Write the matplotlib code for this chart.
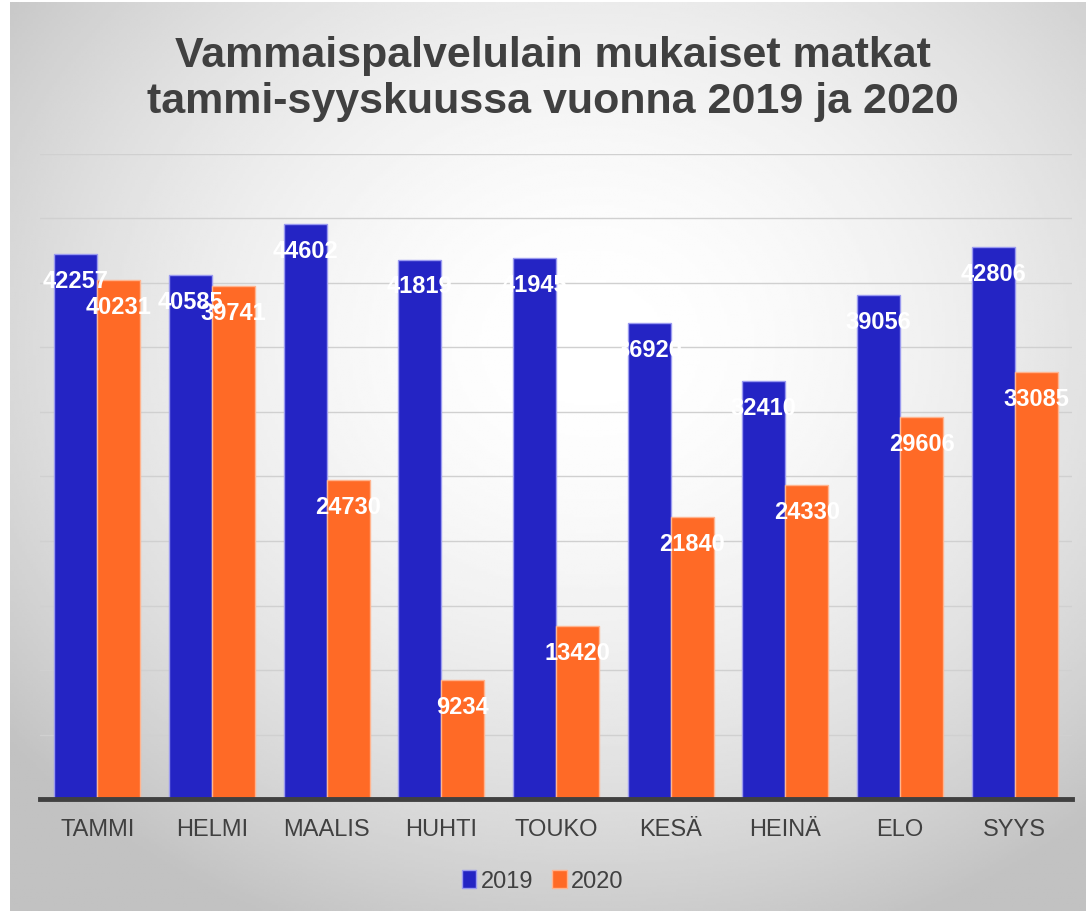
import numpy as np
import matplotlib.pyplot as plt

plt.rcParams['font.family'] = ['Liberation Sans', 'DejaVu Sans']

# ------------------------------------
# -------------------data
# ------------------------------------
months = ['TAMMI', 'HELMI', 'MAALIS', 'HUHTI', 'TOUKO', 'KESÄ', 'HEINÄ', 'ELO', 'SYYS']
trips_2019 = [42257, 40585, 44602, 41819, 41945, 36920, 32410, 39056, 42806]
trips_2020 = [40231, 39741, 24730, 9234, 13420, 21840, 24330, 29606, 33085]
title = 'Vammaispalvelulain mukaiset matkat\ntammi-syyskuussa vuonna 2019 ja 2020'

blue = '#2424c4'
orange = '#ff6a26'
text_gray = '#404040'

fig = plt.figure(figsize=(10.86, 9.12), dpi=100)

# radial gray-to-white background (like the office chart style)
bg = fig.add_axes([10 / 1086, 0, 1 - 10 / 1086, 909 / 912], zorder=-10)
xx, yy = np.meshgrid(np.linspace(-1, 1, 400), np.linspace(-1, 1, 400))
r = np.sqrt((xx - 0.08) ** 2 + (yy + 0.25) ** 2)
shade = 1 - 0.24 * np.clip(r / 1.4, 0, 1) ** 1.8
bg.imshow(shade, cmap='gray', vmin=0, vmax=1, extent=(0, 1, 0, 1), aspect='auto')
bg.axis('off')

ax = fig.add_axes([40 / 1086, 112 / 912, 1032 / 1086, 645 / 912])
ax.set_facecolor('none')

x = np.arange(len(months))
w = 0.375
b1 = ax.bar(x - w / 2, trips_2019, w, color=blue, edgecolor='#9a9af0', linewidth=1, label='2019', zorder=3)
b2 = ax.bar(x + w / 2, trips_2020, w, color=orange, edgecolor='#ffb48f', linewidth=1, label='2020', zorder=3)

# white value labels just inside the bar tops
for bars, vals in ((b1, trips_2019), (b2, trips_2020)):
    for rect, v in zip(bars, vals):
        ax.annotate(str(v), (rect.get_x() + rect.get_width() / 2, v), xytext=(0, -19),
                    textcoords='offset points', ha='center', va='center',
                    color='white', fontsize=17, fontweight='bold', zorder=5)

ax.set_xlim(-0.5, len(months) - 0.5)
ax.set_ylim(0, 50000)
ax.set_yticks(np.arange(5000, 50001, 5000))
ax.yaxis.grid(True, color='#d0d0d0', linewidth=1)
ax.set_axisbelow(True)
ax.tick_params(axis='y', left=False, labelleft=False)
ax.tick_params(axis='x', length=0, pad=14, labelsize=17, labelcolor=text_gray)
ax.set_xticks(x)
ax.set_xticklabels(months)
for s in ('top', 'right', 'left'):
    ax.spines[s].set_visible(False)
ax.spines['bottom'].set_color(text_gray)
ax.spines['bottom'].set_linewidth(3.5)
ax.spines['bottom'].set_zorder(6)

fig.text(0.509, 0.913, title, ha='center', va='center', fontsize=31,
         fontweight='bold', color=text_gray, linespacing=1.2)

fig.legend(loc='center', bbox_to_anchor=(0.5, 1 - 882 / 912), ncol=2, frameon=False,
           fontsize=17, labelcolor=text_gray, handlelength=0.6, handleheight=0.8,
           handletextpad=0.2, columnspacing=0.8)

fig.savefig('out.png', dpi=100)
